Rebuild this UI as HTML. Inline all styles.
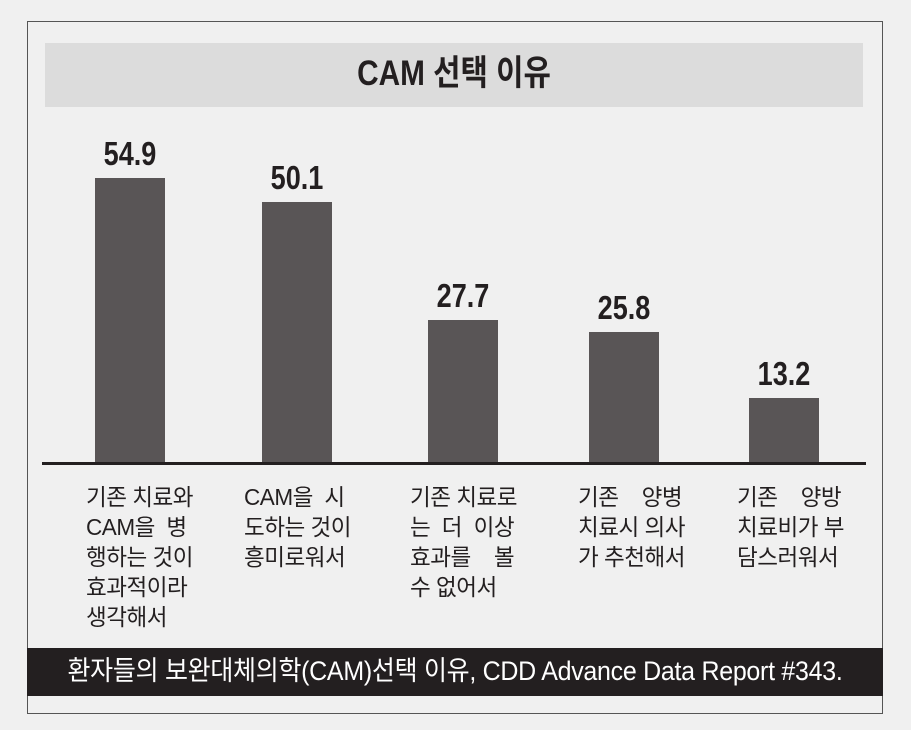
<!DOCTYPE html>
<html><head><meta charset="utf-8"><style>
body{margin:0;width:911px;height:730px;background:#f0f0f0;position:relative;overflow:hidden;font-family:"Liberation Sans","Noto Sans CJK KR",sans-serif}
.a{position:absolute}
.bar{position:absolute;background:#595556;width:70px}
.v{position:absolute;width:140px;text-align:center;font-weight:bold;font-size:33px;color:#231f20;transform:scaleX(0.82);line-height:36px}
.l{position:absolute;font-size:23px;line-height:30px;color:#231f20;transform:scaleX(0.98);transform-origin:left top;white-space:pre;letter-spacing:-0.5px}
</style></head><body>
<div class="a" style="left:27px;top:21px;width:854px;height:691px;border:1.5px solid #555"></div>
<div class="a" style="left:45px;top:43px;width:818px;height:64px;background:#dcdcdc"></div>
<div class="a" style="left:45px;top:54px;width:818px;text-align:center;font-size:35px;font-weight:bold;color:#231f20;line-height:40px;transform:scaleX(0.85)">CAM 선택 이유</div>

<div class="bar" style="left:95px;top:178px;height:286px"></div>
<div class="bar" style="left:262px;top:202px;height:262px"></div>
<div class="bar" style="left:428px;top:320px;height:144px"></div>
<div class="bar" style="left:589px;top:332px;height:132px"></div>
<div class="bar" style="left:749px;top:398px;height:66px"></div>
<div class="v" style="left:60px;top:136px">54.9</div>
<div class="v" style="left:227px;top:160px">50.1</div>
<div class="v" style="left:393px;top:278px">27.7</div>
<div class="v" style="left:554px;top:290px">25.8</div>
<div class="v" style="left:714px;top:356px">13.2</div>
<div class="a" style="left:42px;top:462px;width:824px;height:3px;background:#231f20"></div>

<div class="l" style="left:86px;top:482px">기존 치료와
CAM을  병
행하는 것이
효과적이라
생각해서</div>
<div class="l" style="left:244px;top:482px">CAM을  시
도하는 것이
흥미로워서</div>
<div class="l" style="left:410px;top:482px">기존 치료로
는  더  이상
효과를    볼
수 없어서</div>
<div class="l" style="left:578px;top:482px">기존    양병
치료시 의사
가 추천해서</div>
<div class="l" style="left:737px;top:482px">기존    양방
치료비가 부
담스러워서</div>

<div class="a" style="left:27px;top:648px;width:856px;height:48px;background:#231f20"></div>
<div class="a" style="left:27px;top:654px;width:856px;text-align:center;color:#fff;font-size:27px;line-height:34px;transform:scaleX(0.925);white-space:nowrap;letter-spacing:-0.3px">환자들의 보완대체의학(CAM)선택 이유, CDD Advance Data Report #343.</div>
</body></html>
